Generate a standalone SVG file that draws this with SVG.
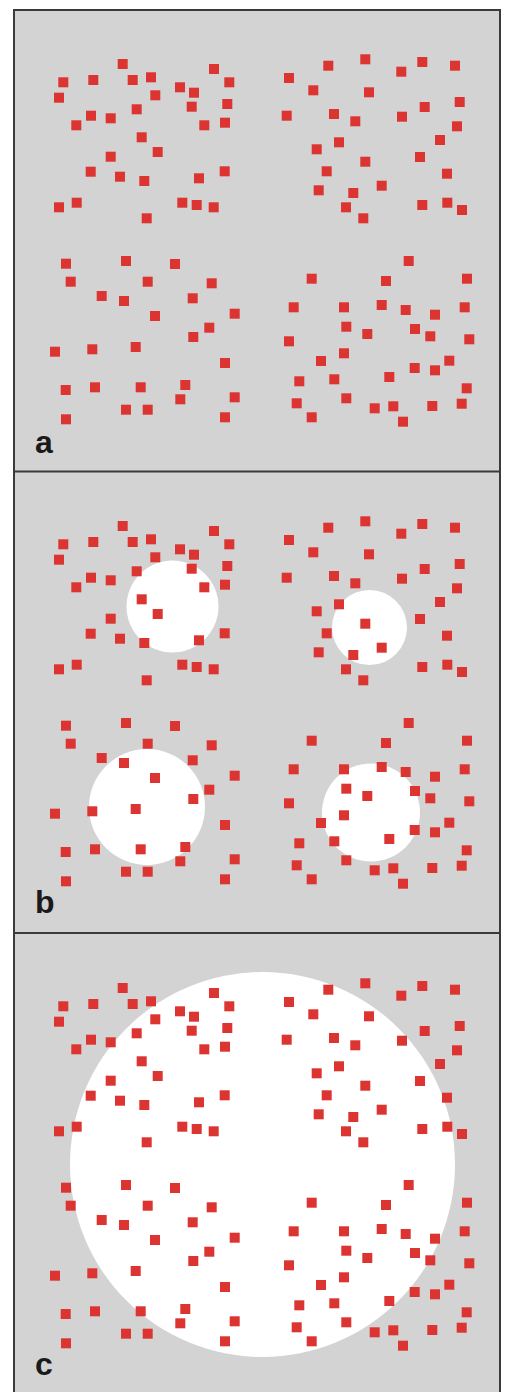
<svg xmlns="http://www.w3.org/2000/svg" xmlns:xlink="http://www.w3.org/1999/xlink" width="509" height="1392" viewBox="0 0 509 1392">
<style>
.bg{fill:#d3d3d3}
.hole{fill:#ffffff}
.frame{fill:none;stroke:#3a3a3a;stroke-width:2}
.d{fill:#dc3430}
.lbl{font-family:"Liberation Sans",Arial,sans-serif;font-weight:bold;font-size:32px;fill:#1a1a1a}
</style>
<defs>
<rect id="s" x="-5" y="-5" width="10" height="10" class="d"/>
<g id="dots">
<use href="#s" x="122.7" y="64"/><use href="#s" x="214" y="69"/><use href="#s" x="63.3" y="82.3"/><use href="#s" x="93.3" y="80"/><use href="#s" x="132.7" y="80"/><use href="#s" x="151" y="77.3"/><use href="#s" x="229.3" y="82.3"/><use href="#s" x="59" y="97.7"/><use href="#s" x="155.3" y="95.3"/><use href="#s" x="180" y="87.3"/><use href="#s" x="194" y="92.7"/><use href="#s" x="227.3" y="104"/><use href="#s" x="191.7" y="106.7"/><use href="#s" x="136.7" y="109.3"/><use href="#s" x="91" y="115.7"/><use href="#s" x="110.7" y="118.3"/><use href="#s" x="76.3" y="125.3"/><use href="#s" x="204.3" y="125.3"/><use href="#s" x="225" y="122.7"/><use href="#s" x="141.7" y="137.3"/><use href="#s" x="157.7" y="152"/><use href="#s" x="110.7" y="156.7"/><use href="#s" x="90.7" y="171.7"/><use href="#s" x="120" y="176.7"/><use href="#s" x="144.3" y="181"/><use href="#s" x="199" y="178.3"/><use href="#s" x="224.7" y="171.3"/><use href="#s" x="59" y="207.3"/><use href="#s" x="76.7" y="202.7"/><use href="#s" x="182.3" y="202.7"/><use href="#s" x="196.7" y="205"/><use href="#s" x="213.7" y="207.3"/><use href="#s" x="146.7" y="218.3"/>
<use href="#s" x="328.3" y="65.7"/><use href="#s" x="365.3" y="59.3"/><use href="#s" x="401.3" y="71.7"/><use href="#s" x="422.3" y="62"/><use href="#s" x="455" y="65.7"/><use href="#s" x="289" y="78"/><use href="#s" x="313.3" y="90.3"/><use href="#s" x="369" y="92.3"/><use href="#s" x="459.7" y="102"/><use href="#s" x="286.7" y="115.7"/><use href="#s" x="334" y="114"/><use href="#s" x="355.3" y="121.3"/><use href="#s" x="402" y="116.7"/><use href="#s" x="424.7" y="107"/><use href="#s" x="457" y="126.3"/><use href="#s" x="339" y="142.3"/><use href="#s" x="316.7" y="149.3"/><use href="#s" x="440" y="140"/><use href="#s" x="365.3" y="161.7"/><use href="#s" x="420" y="157"/><use href="#s" x="326.7" y="171.3"/><use href="#s" x="447" y="173.7"/><use href="#s" x="381.7" y="185.7"/><use href="#s" x="318.7" y="190.3"/><use href="#s" x="353.3" y="193"/><use href="#s" x="346" y="207.3"/><use href="#s" x="363.3" y="218.3"/><use href="#s" x="422.3" y="205"/><use href="#s" x="447.3" y="202.7"/><use href="#s" x="462" y="210"/>
<use href="#s" x="66" y="263.7"/><use href="#s" x="126" y="261"/><use href="#s" x="175" y="264"/><use href="#s" x="70.7" y="281.7"/><use href="#s" x="147.7" y="281.7"/><use href="#s" x="211.7" y="283.3"/><use href="#s" x="101.7" y="296"/><use href="#s" x="124" y="301"/><use href="#s" x="192.7" y="298.3"/><use href="#s" x="155" y="316"/><use href="#s" x="234.7" y="313.7"/><use href="#s" x="209.3" y="327.7"/><use href="#s" x="193.3" y="337"/><use href="#s" x="55" y="351.7"/><use href="#s" x="92.3" y="349.3"/><use href="#s" x="135.7" y="347"/><use href="#s" x="225" y="363"/><use href="#s" x="65.7" y="390"/><use href="#s" x="95" y="387.3"/><use href="#s" x="140.7" y="387.3"/><use href="#s" x="185.3" y="385"/><use href="#s" x="180.3" y="399.3"/><use href="#s" x="234.7" y="397.3"/><use href="#s" x="126" y="409.7"/><use href="#s" x="147.7" y="409.7"/><use href="#s" x="66" y="419.3"/><use href="#s" x="225" y="417.3"/>
<use href="#s" x="408.7" y="261"/><use href="#s" x="311.7" y="278.7"/><use href="#s" x="386" y="281"/><use href="#s" x="467" y="278.7"/><use href="#s" x="293.7" y="307.3"/><use href="#s" x="344" y="307.3"/><use href="#s" x="381.7" y="305"/><use href="#s" x="405.7" y="310"/><use href="#s" x="435" y="314.7"/><use href="#s" x="464.7" y="307.3"/><use href="#s" x="346.3" y="326.7"/><use href="#s" x="367.3" y="334"/><use href="#s" x="415" y="329"/><use href="#s" x="430.3" y="336.3"/><use href="#s" x="469.3" y="339.3"/><use href="#s" x="289" y="341.3"/><use href="#s" x="344" y="353.3"/><use href="#s" x="321" y="361"/><use href="#s" x="449.3" y="360.7"/><use href="#s" x="414.7" y="368"/><use href="#s" x="435" y="370.3"/><use href="#s" x="299.3" y="381.3"/><use href="#s" x="334.3" y="379.3"/><use href="#s" x="389.3" y="377"/><use href="#s" x="466.7" y="388.3"/><use href="#s" x="296.7" y="403.3"/><use href="#s" x="346.3" y="398.3"/><use href="#s" x="374.7" y="408.3"/><use href="#s" x="393.3" y="406.3"/><use href="#s" x="432.3" y="406"/><use href="#s" x="461.7" y="403.7"/><use href="#s" x="311.7" y="417.3"/><use href="#s" x="403" y="421.7"/>
</g>
</defs>
<rect x="0" y="0" width="509" height="1392" fill="#ffffff"/>
<g id="panel-a">
<rect class="bg" x="14" y="10" width="486" height="462"/>
<use href="#dots"/>
<text class="lbl" x="35" y="453">a</text>
</g>
<g id="panel-b">
<rect class="bg" x="14" y="472" width="486" height="462"/>
<circle class="hole" cx="172.5" cy="606.5" r="46"/>
<circle class="hole" cx="369.5" cy="627.5" r="37.5"/>
<circle class="hole" cx="147" cy="807" r="58"/>
<circle class="hole" cx="371" cy="812.5" r="49"/>
<use href="#dots" transform="translate(0,462)"/>
<text class="lbl" x="35" y="913">b</text>
</g>
<g id="panel-c">
<rect class="bg" x="14" y="934" width="486" height="470"/>
<circle class="hole" cx="262.5" cy="1164.5" r="192.5"/>
<use href="#dots" transform="translate(0,924)"/>
<text class="lbl" x="35" y="1375">c</text>
</g>
<g id="frame">
<rect class="frame" x="14" y="10" width="486" height="1400"/>
<line class="frame" x1="14" y1="471.5" x2="500" y2="471.5"/>
<line class="frame" x1="14" y1="933" x2="500" y2="933"/>
</g>
</svg>
